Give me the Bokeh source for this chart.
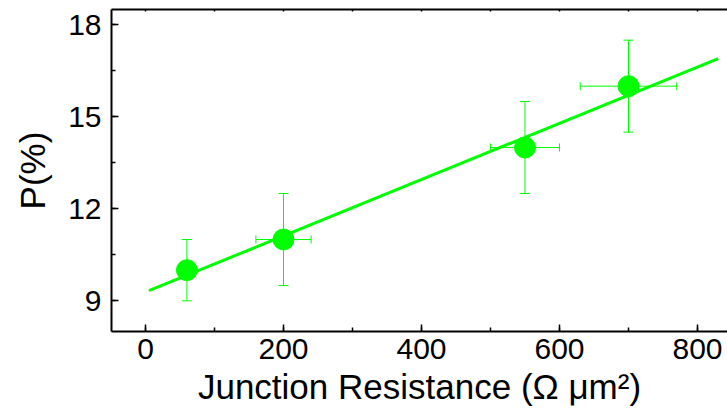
from bokeh.plotting import figure
from bokeh.models import (ColumnDataSource, Whisker, TeeHead, LinearAxis,
                          SingleIntervalTicker, Range1d, CustomJSTickFormatter)
from bokeh.embed import file_html
from bokeh.resources import INLINE

# data
resistance = [60, 200, 550, 700]
polarization = [10, 11, 14, 16]
y_err = [1.0, 1.5, 1.5, 1.5]
x_err = [0, 40, 50, 70]
fit_x = [5, 830]
fit_y = [9.33, 16.9]

GREEN = "#00ff00"
FONT = "Liberation Sans"

p = figure(width=727, height=412, output_backend="svg", toolbar_location=None,
           x_range=Range1d(-49.3, 843.5), y_range=Range1d(8, 18.5),
           min_border_left=111, min_border_top=9, min_border_bottom=81,
           min_border_right=0)
p.outline_line_color = None
p.grid.visible = False
p.background_fill_color = "white"
p.border_fill_color = "white"

# error bars
ylo = [v - e for v, e in zip(polarization, y_err)]
yhi = [v + e for v, e in zip(polarization, y_err)]
ysrc = ColumnDataSource(dict(x=resistance, lo=ylo, hi=yhi))
p.add_layout(Whisker(source=ysrc, base="x", lower="lo", upper="hi", dimension="height",
                     line_color=GREEN, line_width=1,
                     lower_head=TeeHead(size=10, line_color=GREEN, line_width=1),
                     upper_head=TeeHead(size=10, line_color=GREEN, line_width=1)))
xs = [(r, v, e) for r, v, e in zip(resistance, polarization, x_err) if e > 0]
xsrc = ColumnDataSource(dict(y=[t[1] for t in xs], lo=[t[0] - t[2] for t in xs],
                             hi=[t[0] + t[2] for t in xs]))
p.add_layout(Whisker(source=xsrc, base="y", lower="lo", upper="hi", dimension="width",
                     line_color=GREEN, line_width=1,
                     lower_head=TeeHead(size=8, line_color=GREEN, line_width=1),
                     upper_head=TeeHead(size=8, line_color=GREEN, line_width=1)))

p.line(fit_x, fit_y, line_color=GREEN, line_width=3)
p.scatter(resistance, polarization, size=21, fill_color=GREEN, line_color=GREEN)

# axes
xa = p.xaxis[0]
xa.ticker = SingleIntervalTicker(interval=200, num_minor_ticks=2)
ya = p.yaxis[0]
ya.ticker = SingleIntervalTicker(interval=3, num_minor_ticks=2)
for ax in (xa, ya):
    ax.axis_line_width = 2
    ax.axis_line_color = "black"
    ax.major_tick_in = 7
    ax.major_tick_out = 0
    ax.minor_tick_in = 4
    ax.minor_tick_out = 0
    ax.major_tick_line_width = 1.5
    ax.minor_tick_line_width = 1.5
    ax.major_label_text_font = FONT
    ax.major_label_text_font_size = "30px"
    ax.major_label_text_color = "black"
    ax.axis_label_text_font = FONT
    ax.axis_label_text_font_size = "35px"
    ax.axis_label_text_font_style = "normal"
    ax.axis_label_text_color = "black"
xa.axis_label = "Junction Resistance (Ω μm²)"
ya.axis_label = "P(%)"
xa.major_label_standoff = 7
ya.major_label_standoff = 10
xa.axis_label_standoff = 5
ya.axis_label_standoff = 13

top = LinearAxis(ticker=SingleIntervalTicker(interval=100, num_minor_ticks=0),
                 formatter=CustomJSTickFormatter(code="return ''"))
top.axis_line_width = 2
top.major_tick_in = 2
top.major_tick_out = 0
top.major_tick_line_width = 1.5
top.minor_tick_in = 0
top.minor_tick_out = 0
top.major_label_standoff = 0
p.add_layout(top, "above")

open("out.html", "w").write(file_html(p, INLINE))
